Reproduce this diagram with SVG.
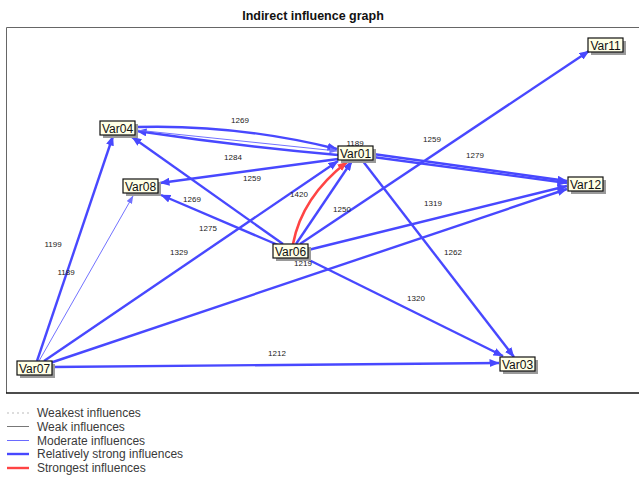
<svg xmlns="http://www.w3.org/2000/svg" width="639" height="477" viewBox="0 0 639 477">
<style>
.title{font-family:"Liberation Sans",Arial,sans-serif;font-size:12.5px;font-weight:bold;fill:#111;text-anchor:middle}
.e{fill:none;stroke:#4848ff;stroke-width:2.4}
.em{fill:none;stroke:#7272ff;stroke-width:1}
.er{fill:none;stroke:#ff4444;stroke-width:2.6}
.lbl{font-family:"Liberation Sans",Arial,sans-serif;font-size:8px;fill:#222;text-anchor:middle}
.box{fill:#ffffe6;stroke:#111;stroke-width:1.2}
.sh{fill:#9a9a9a}
.nt{font-family:"Liberation Sans",Arial,sans-serif;font-size:12px;fill:#111;text-anchor:middle}
.lg{font-family:"Liberation Sans",Arial,sans-serif;font-size:12px;fill:#3a3a3a}
</style>
<defs>
<marker id="ab" markerWidth="10" markerHeight="8" refX="9.5" refY="4" orient="auto" markerUnits="userSpaceOnUse"><path d="M0,0 L10,4 L0,8 z" fill="#4848ff"/></marker>
<marker id="am" markerWidth="8" markerHeight="6" refX="7.5" refY="3" orient="auto" markerUnits="userSpaceOnUse"><path d="M0,0 L8,3 L0,6 z" fill="#7272ff"/></marker>
<marker id="ar" markerWidth="10" markerHeight="8" refX="9.5" refY="4" orient="auto" markerUnits="userSpaceOnUse"><path d="M0,0 L10,4 L0,8 z" fill="#ff4444"/></marker>
</defs>
<rect x="0" y="0" width="639" height="477" fill="#ffffff"/>
<text class="title" x="313" y="20">Indirect influence graph</text>
<line x1="6.5" y1="27.5" x2="639" y2="27.5" stroke="#666" stroke-width="1"/>
<line x1="6.5" y1="27.5" x2="6.5" y2="393" stroke="#666" stroke-width="1"/>
<line x1="6" y1="393" x2="639" y2="393" stroke="#111" stroke-width="1.5"/>
<g id="connectors">
<path class="e" d="M136,127 Q236,124 337,149" marker-end="url(#ab)"/>
<path class="e" d="M338,155 Q237,146 137,131" marker-end="url(#ab)"/>
<path class="em" d="M136,130 L337,151" marker-end="url(#am)"/>
<path class="e" d="M338,159 L160,183" marker-end="url(#ab)"/>
<path class="e" d="M373,154 L567,181" marker-end="url(#ab)"/>
<path class="e" d="M373,157 L567,183" marker-end="url(#ab)"/>
<path class="e" d="M362,160 L514,357" marker-end="url(#ab)"/>
<path class="e" d="M283,244 L132,137" marker-end="url(#ab)"/>
<path class="e" d="M278,245 L161,195" marker-end="url(#ab)"/>
<path class="e" d="M296,244 L352,161" marker-end="url(#ab)"/>
<path class="er" d="M293,244 Q302,197 347,162" marker-end="url(#ar)"/>
<path class="e" d="M300,244 L589,51" marker-end="url(#ab)"/>
<path class="e" d="M308,250 L567,186" marker-end="url(#ab)"/>
<path class="e" d="M305,258 L503,356" marker-end="url(#ab)"/>
<path class="e" d="M37,361 L113,136" marker-end="url(#ab)"/>
<path class="em" d="M39,361 L133,196" marker-end="url(#am)"/>
<path class="e" d="M44,361 L338,161" marker-end="url(#ab)"/>
<path class="e" d="M50,363 L567,189" marker-end="url(#ab)"/>
<path class="e" d="M52,367 L499,363" marker-end="url(#ab)"/>
</g>
<g id="labels">
<text class="lbl" x="240" y="123">1269</text>
<text class="lbl" x="233" y="160">1284</text>
<text class="lbl" x="355" y="146">1189</text>
<text class="lbl" x="252" y="181">1259</text>
<text class="lbl" x="299" y="197">1420</text>
<text class="lbl" x="342" y="212">1250</text>
<text class="lbl" x="208" y="231">1275</text>
<text class="lbl" x="192" y="202">1269</text>
<text class="lbl" x="179" y="255">1329</text>
<text class="lbl" x="53" y="247">1199</text>
<text class="lbl" x="66" y="275">1189</text>
<text class="lbl" x="303" y="266">1219</text>
<text class="lbl" x="277" y="356">1212</text>
<text class="lbl" x="416" y="301">1320</text>
<text class="lbl" x="432" y="142">1259</text>
<text class="lbl" x="475" y="158">1279</text>
<text class="lbl" x="433" y="206">1319</text>
<text class="lbl" x="453" y="255">1262</text>
</g>
<g id="Var04"><rect class="sh" x="103" y="124" width="35" height="14"/><rect class="box" x="100" y="121" width="35" height="14"/><text class="nt" x="117.5" y="132.5">Var04</text></g>
<g id="Var08"><rect class="sh" x="126" y="182" width="35" height="14"/><rect class="box" x="123" y="179" width="35" height="14"/><text class="nt" x="140.5" y="190.5">Var08</text></g>
<g id="Var01"><rect class="sh" x="341" y="149" width="35" height="14"/><rect class="box" x="338" y="146" width="35" height="14"/><text class="nt" x="355.5" y="157.5">Var01</text></g>
<g id="Var06"><rect class="sh" x="276" y="247" width="35" height="14"/><rect class="box" x="273" y="244" width="35" height="14"/><text class="nt" x="290.5" y="255.5">Var06</text></g>
<g id="Var12"><rect class="sh" x="571" y="180" width="35" height="14"/><rect class="box" x="568" y="177" width="35" height="14"/><text class="nt" x="585.5" y="188.5">Var12</text></g>
<g id="Var11"><rect class="sh" x="591" y="41" width="35" height="14"/><rect class="box" x="588" y="38" width="35" height="14"/><text class="nt" x="605.5" y="49.5">Var11</text></g>
<g id="Var03"><rect class="sh" x="503" y="360" width="35" height="14"/><rect class="box" x="500" y="357" width="35" height="14"/><text class="nt" x="517.5" y="368.5">Var03</text></g>
<g id="Var07"><rect class="sh" x="20" y="364" width="35" height="14"/><rect class="box" x="17" y="361" width="35" height="14"/><text class="nt" x="34.5" y="372.5">Var07</text></g>
<g id="legend">
<line x1="7" y1="413" x2="29" y2="413" stroke="#bbb" stroke-width="1" stroke-dasharray="2,3"/>
<text class="lg" x="37" y="417">Weakest influences</text>
<line x1="7" y1="426.5" x2="29" y2="426.5" stroke="#777" stroke-width="1"/>
<text class="lg" x="37" y="431">Weak influences</text>
<line x1="7" y1="440.5" x2="29" y2="440.5" stroke="#6a6aff" stroke-width="1"/>
<text class="lg" x="37" y="445">Moderate influences</text>
<line x1="7" y1="454" x2="29" y2="454" stroke="#4848ff" stroke-width="2.4"/>
<text class="lg" x="37" y="458">Relatively strong influences</text>
<line x1="7" y1="468" x2="29" y2="468" stroke="#ff4444" stroke-width="2.4"/>
<text class="lg" x="37" y="472">Strongest influences</text>
</g>
</svg>
